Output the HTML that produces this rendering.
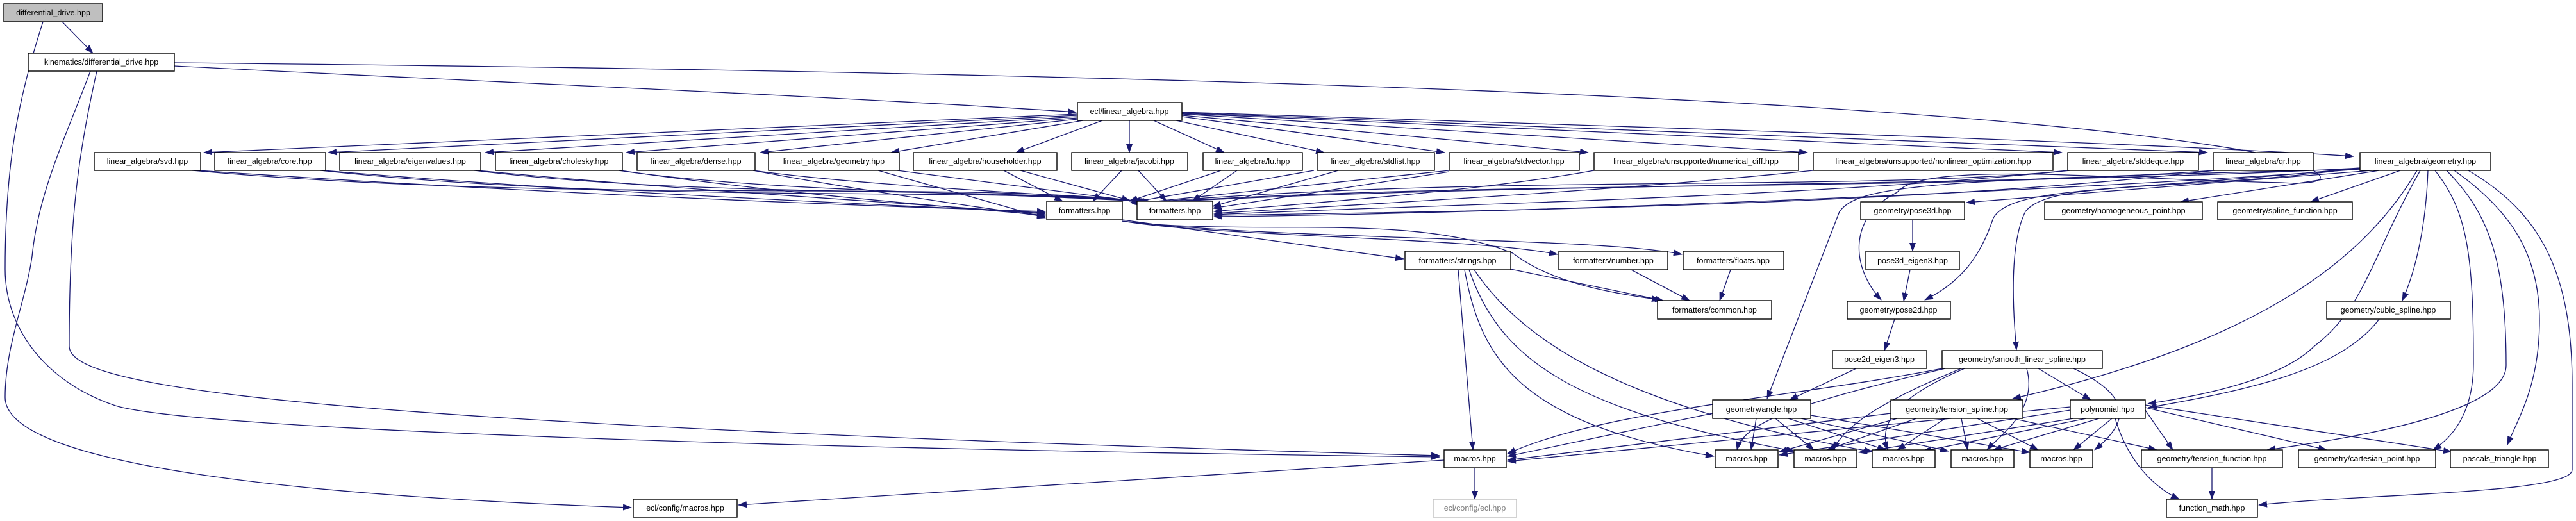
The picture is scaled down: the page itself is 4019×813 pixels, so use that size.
<!DOCTYPE html>
<html><head><meta charset="utf-8"><style>
html,body{margin:0;padding:0;background:#fff;width:4019px;height:813px;overflow:hidden}
svg{display:block}
text{font-family:"Liberation Sans",sans-serif;font-size:12.5px;fill:#000;text-anchor:middle}
.n rect{fill:#fff;stroke:#000;stroke-width:1.4}
.e path{fill:none;stroke:#191970;stroke-width:1.3;marker-end:url(#a)}
</style></head><body>
<svg width="4019" height="813" viewBox="0 0 4019 813" xmlns="http://www.w3.org/2000/svg">
<defs><marker id="a" markerWidth="14" markerHeight="10" refX="13" refY="5" orient="auto" markerUnits="userSpaceOnUse"><path d="M0,0 L14,5 L0,10z" fill="#191970"/></marker></defs>
<g class="e">
<path d="M97,34 L145,83"/>
<path d="M67,34 C30,150 8,250 8,420 C8,520 80,600 180,633 C300,670 1200,700 2246,713"/>
<path d="M141,111 C100,220 60,300 50,400 C40,470 8,540 8,620 C8,730 500,775 985,792"/>
<path d="M151,111 C120,250 108,350 108,540 C108,600 400,660 2246,711"/>
<path d="M272,103 C700,125 1300,150 1679,175"/>
<path d="M272,98 C1500,110 3000,140 3530,240 C3650,270 3640,290 3560,285 C3300,280 3000,250 2960,300 C2880,340 2890,420 2935,468"/>
<path d="M1681,178 L318,238"/><path d="M1681,180 L512,238"/><path d="M1681,182 L757,238"/>
<path d="M1681,184 L977,238"/><path d="M1681,186 L1186,238"/><path d="M1690,188 L1390,238"/>
<path d="M1720,188 L1585,238"/><path d="M1762,188 L1762,238"/><path d="M1800,188 L1910,238"/>
<path d="M1835,188 L2066,238"/><path d="M1844,182 L2254,238"/><path d="M1844,180 L2478,238"/>
<path d="M1844,178 L2820,238"/><path d="M1844,177 L3217,238"/><path d="M1844,176 L3444,238"/>
<path d="M1844,175 C2600,200 3300,220 3672,244"/>
<path d="M310,266 C800,300 1300,320 1631,330"/><path d="M300,266 C900,320 1500,280 1788,315"/>
<path d="M505,266 C900,300 1300,315 1631,332"/><path d="M500,266 C1000,320 1500,290 1790,315"/>
<path d="M745,266 C1100,300 1400,315 1631,334"/><path d="M740,266 C1100,310 1500,290 1792,315"/>
<path d="M968,266 C1200,300 1450,320 1631,336"/><path d="M965,266 C1200,300 1550,300 1794,315"/>
<path d="M1175,266 C1300,290 1500,320 1631,338"/><path d="M1175,266 C1350,290 1600,300 1796,315"/>
<path d="M1370,266 L1631,340"/><path d="M1400,266 L1780,315"/>
<path d="M1566,266 L1658,314"/><path d="M1592,266 L1763,313"/>
<path d="M1750,266 L1705,314"/><path d="M1776,266 L1820,314"/>
<path d="M1905,266 L1762,314"/><path d="M1930,266 L1860,314"/>
<path d="M2050,266 L1764,316"/><path d="M2088,266 L1892,322"/>
<path d="M2261,266 L1766,318"/><path d="M2261,268 L1892,325"/>
<path d="M2487,266 C2300,300 2000,320 1894,330"/>
<path d="M2829,266 C2500,300 2100,320 1894,333"/>
<path d="M3226,266 C2900,300 2300,270 1768,318"/><path d="M3230,266 C2800,310 2200,320 1894,335"/>
<path d="M3453,266 C3000,300 2300,280 1770,318"/><path d="M3455,266 C3000,320 2300,330 1894,336"/>
<path d="M3682,262 C3200,290 2300,285 1772,318"/><path d="M3682,264 C3200,300 2300,335 1894,338"/>
<path d="M1751,343 L2190,404"/>
<path d="M1751,345 C1900,370 2300,370 2430,397"/>
<path d="M1751,345 C2000,375 2500,370 2624,397"/>
<path d="M1751,345 C1950,370 2200,330 2360,395 C2420,440 2500,455 2590,468"/>
<path d="M2357,420 L2595,469"/><path d="M2545,421 L2636,469"/><path d="M2700,421 L2683,469"/>
<path d="M2275,421 L2298,702"/>
<path d="M2285,421 C2310,560 2370,660 2674,712"/>
<path d="M2292,421 C2340,560 2450,640 2800,704"/>
<path d="M2300,421 C2380,540 2550,640 2922,705"/>
<path d="M2984,343 L2984,392"/><path d="M2980,421 L2970,470"/><path d="M2956,498 L2940,547"/>
<path d="M2896,575 L2792,624"/>
<path d="M3700,266 L3068,316"/><path d="M3712,266 L3402,315"/><path d="M3745,266 L3605,315"/>
<path d="M3771,266 C3680,420 3500,540 3140,622"/>
<path d="M3776,266 C3700,400 3690,480 3611,540 C3560,590 3450,615 3351,630"/>
<path d="M3788,266 C3785,350 3770,420 3748,469"/>
<path d="M3799,266 C3850,330 3859,400 3859,567 C3859,640 3830,680 3796,702"/>
<path d="M3817,266 C3880,330 3910,400 3910,570 C3910,640 3700,680 3537,702"/>
<path d="M3829,266 C3920,330 3962,400 3962,500 C3962,600 3930,650 3912,694"/>
<path d="M3851,266 C3960,330 4013,420 4013,600 L4013,733 C4013,770 3700,770 3524,788"/>
<path d="M3682,262 C3400,300 3200,280 3160,330 C3135,380 3140,480 3146,546"/>
<path d="M3682,264 C3000,280 2900,290 2870,330 L2757,622"/>
<path d="M3682,262 C3300,300 3140,290 3110,340 C3090,400 3060,440 3003,468"/>
<path d="M3030,575 C2800,620 2500,640 2352,708"/>
<path d="M3035,575 C2800,630 2720,660 2710,702"/>
<path d="M3060,575 C2950,620 2880,660 2860,702"/>
<path d="M3065,575 C2960,620 2930,660 2945,702"/>
<path d="M3162,575 C3180,640 3120,680 3100,702"/>
<path d="M3180,575 L3262,624"/>
<path d="M3235,575 C3330,620 3320,660 3268,702"/>
<path d="M3712,498 C3650,580 3500,610 3352,636"/>
<path d="M2672,645 L2352,712"/>
<path d="M2740,653 L2732,702"/><path d="M2770,653 L2830,702"/><path d="M2790,653 L2942,702"/>
<path d="M2810,653 L3040,704"/><path d="M2825,648 L3167,706"/>
<path d="M2950,645 L2352,718"/><path d="M2960,653 L2776,705"/><path d="M2990,653 L2850,702"/>
<path d="M3035,653 L2960,702"/><path d="M3060,653 L3070,702"/><path d="M3085,653 L3180,702"/>
<path d="M3140,653 L3365,702"/>
<path d="M3230,635 L2352,720"/><path d="M3230,640 L2776,710"/><path d="M3235,653 L2900,706"/>
<path d="M3255,653 L3000,704"/><path d="M3275,653 L3110,702"/><path d="M3295,653 L3235,702"/>
<path d="M3347,640 L3390,702"/><path d="M3347,636 L3630,702"/><path d="M3347,632 L3825,705"/>
<path d="M3300,653 C3320,720 3360,760 3400,779"/>
<path d="M3451,730 L3451,779"/><path d="M2301,730 L2301,779"/><path d="M2253,718 L1152,788"/>
</g>
<g class="n">
<rect x="6" y="6" width="154" height="28" style="fill:#bfbfbf"/><text x="83" y="24">differential_drive.hpp</text>
<rect x="44" y="83" width="228" height="28"/><text x="158" y="101">kinematics/differential_drive.hpp</text>
<rect x="1681" y="160" width="163" height="28"/><text x="1762" y="178">ecl/linear_algebra.hpp</text>
<rect x="147" y="238" width="166" height="28"/><text x="230" y="256">linear_algebra/svd.hpp</text>
<rect x="335" y="238" width="173" height="28"/><text x="421" y="256">linear_algebra/core.hpp</text>
<rect x="530" y="238" width="220" height="28"/><text x="640" y="256">linear_algebra/eigenvalues.hpp</text>
<rect x="773" y="238" width="198" height="28"/><text x="872" y="256">linear_algebra/cholesky.hpp</text>
<rect x="994" y="238" width="184" height="28"/><text x="1086" y="256">linear_algebra/dense.hpp</text>
<rect x="1199" y="238" width="204" height="28"/><text x="1301" y="256">linear_algebra/geometry.hpp</text>
<rect x="1425" y="238" width="224" height="28"/><text x="1537" y="256">linear_algebra/householder.hpp</text>
<rect x="1672" y="238" width="181" height="28"/><text x="1762" y="256">linear_algebra/jacobi.hpp</text>
<rect x="1877" y="238" width="155" height="28"/><text x="1954" y="256">linear_algebra/lu.hpp</text>
<rect x="2055" y="238" width="183" height="28"/><text x="2146" y="256">linear_algebra/stdlist.hpp</text>
<rect x="2261" y="238" width="203" height="28"/><text x="2362" y="256">linear_algebra/stdvector.hpp</text>
<rect x="2487" y="238" width="319" height="28"/><text x="2646" y="256">linear_algebra/unsupported/numerical_diff.hpp</text>
<rect x="2829" y="238" width="374" height="28"/><text x="3016" y="256">linear_algebra/unsupported/nonlinear_optimization.hpp</text>
<rect x="3226" y="238" width="204" height="28"/><text x="3328" y="256">linear_algebra/stddeque.hpp</text>
<rect x="3453" y="238" width="156" height="28"/><text x="3531" y="256">linear_algebra/qr.hpp</text>
<rect x="3682" y="238" width="204" height="28"/><text x="3784" y="256">linear_algebra/geometry.hpp</text>
<rect x="1633" y="314" width="118" height="29"/><text x="1692" y="333">formatters.hpp</text>
<rect x="1774" y="314" width="118" height="29"/><text x="1833" y="333">formatters.hpp</text>
<rect x="2903" y="315" width="162" height="28"/><text x="2984" y="333">geometry/pose3d.hpp</text>
<rect x="3190" y="315" width="246" height="28"/><text x="3313" y="333">geometry/homogeneous_point.hpp</text>
<rect x="3460" y="315" width="210" height="28"/><text x="3565" y="333">geometry/spline_function.hpp</text>
<rect x="2192" y="392" width="165" height="29"/><text x="2274" y="411">formatters/strings.hpp</text>
<rect x="2432" y="392" width="170" height="29"/><text x="2517" y="411">formatters/number.hpp</text>
<rect x="2626" y="392" width="157" height="29"/><text x="2704" y="411">formatters/floats.hpp</text>
<rect x="2911" y="392" width="146" height="29"/><text x="2984" y="411">pose3d_eigen3.hpp</text>
<rect x="2586" y="469" width="178" height="29"/><text x="2675" y="488">formatters/common.hpp</text>
<rect x="2882" y="470" width="161" height="28"/><text x="2962" y="488">geometry/pose2d.hpp</text>
<rect x="3630" y="470" width="193" height="28"/><text x="3726" y="488">geometry/cubic_spline.hpp</text>
<rect x="2859" y="547" width="147" height="28"/><text x="2932" y="565">pose2d_eigen3.hpp</text>
<rect x="3030" y="547" width="250" height="28"/><text x="3155" y="565">geometry/smooth_linear_spline.hpp</text>
<rect x="2672" y="624" width="153" height="29"/><text x="2748" y="643">geometry/angle.hpp</text>
<rect x="2950" y="624" width="206" height="29"/><text x="3053" y="643">geometry/tension_spline.hpp</text>
<rect x="3230" y="624" width="117" height="29"/><text x="3288" y="643">polynomial.hpp</text>
<rect x="2253" y="702" width="97" height="28"/><text x="2301" y="720">macros.hpp</text>
<rect x="2676" y="702" width="98" height="28"/><text x="2725" y="720">macros.hpp</text>
<rect x="2799" y="702" width="98" height="28"/><text x="2848" y="720">macros.hpp</text>
<rect x="2921" y="702" width="98" height="28"/><text x="2970" y="720">macros.hpp</text>
<rect x="3044" y="702" width="98" height="28"/><text x="3093" y="720">macros.hpp</text>
<rect x="3167" y="702" width="98" height="28"/><text x="3216" y="720">macros.hpp</text>
<rect x="3341" y="702" width="220" height="28"/><text x="3451" y="720">geometry/tension_function.hpp</text>
<rect x="3586" y="702" width="214" height="28"/><text x="3693" y="720">geometry/cartesian_point.hpp</text>
<rect x="3823" y="702" width="153" height="28"/><text x="3900" y="720">pascals_triangle.hpp</text>
<rect x="3380" y="779" width="142" height="28"/><text x="3451" y="797">function_math.hpp</text>
<rect x="988" y="779" width="162" height="28"/><text x="1069" y="797">ecl/config/macros.hpp</text>
<rect x="2236" y="779" width="130" height="28" style="stroke:#bfbfbf"/><text x="2301" y="797" style="fill:#7f7f7f">ecl/config/ecl.hpp</text>
</g>
</svg>
</body></html>
